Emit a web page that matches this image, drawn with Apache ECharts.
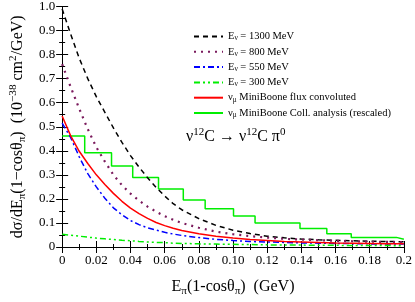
<!DOCTYPE html>
<html><head><meta charset="utf-8">
<script src="https://cdn.jsdelivr.net/npm/echarts@6/dist/echarts.min.js"></script>
<style>html,body{margin:0;padding:0;background:#fff}#c{width:415px;height:302px}</style>
</head><body><div id="c"></div>
<script>
// ---- data ----
const xGrid = [0,0.005,0.01,0.015,0.02,0.025,0.03,0.035,0.04,0.045,0.05,0.055,0.06,0.065,0.07,0.08,0.09,0.10,0.11,0.12,0.13,0.14,0.15,0.16,0.17,0.18,0.19,0.20];
const e1300 = [0.99,0.885,0.785,0.70,0.625,0.56,0.495,0.435,0.38,0.332,0.288,0.248,0.212,0.18,0.155,0.118,0.09,0.07,0.056,0.045,0.038,0.033,0.030,0.028,0.026,0.024,0.023,0.022];
const e800  = [0.76,0.665,0.575,0.49,0.415,0.355,0.30,0.257,0.222,0.193,0.168,0.147,0.128,0.113,0.10,0.08,0.064,0.053,0.045,0.039,0.034,0.031,0.028,0.026,0.024,0.022,0.021,0.020];
const e550  = [0.515,0.455,0.375,0.305,0.25,0.203,0.163,0.134,0.11,0.093,0.08,0.07,0.061,0.054,0.048,0.039,0.032,0.027,0.023,0.021,0.019,0.017,0.016,0.015,0.014,0.013,0.012,0.012];
const e300  = [0.053,0.049,0.045,0.041,0.037,0.034,0.031,0.028,0.026,0.023,0.021,0.019,0.018,0.016,0.015,0.013,0.012,0.011,0.010,0.009,0.008,0.008,0.007,0.007,0.006,0.006,0.006,0.005];
const fluxConv = [0.545,0.462,0.398,0.347,0.30,0.26,0.223,0.19,0.162,0.139,0.119,0.102,0.089,0.078,0.069,0.055,0.045,0.037,0.031,0.027,0.023,0.021,0.019,0.017,0.016,0.015,0.014,0.013];
const binEdges = [0,0.0132,0.0289,0.0413,0.0564,0.0709,0.0837,0.1003,0.1129,0.1392,0.1549,0.1692,0.1956,0.2];
const binValues = [0.462,0.392,0.337,0.289,0.241,0.195,0.159,0.129,0.100,0.077,0.055,0.040,0.032];
const xTickLabels = ['0','0.02','0.04','0.06','0.08','0.10','0.12','0.14','0.16','0.18','0.2'];
const yTickLabels = ['0','0.1','0.2','0.3','0.4','0.5','0.6','0.7','0.8','0.9','1.0'];
const legendLabels = [
  'E{sub|ν} = 1300 MeV',
  'E{sub|ν} = 800 MeV',
  'E{sub|ν} = 550 MeV',
  'E{sub|ν} = 300 MeV',
  'ν{sub|μ} MiniBoone flux convoluted',
  'ν{sub|μ} MiniBoone Coll. analysis (rescaled)'
];
const seriesNames = ['E1300','E800','E550','E300','flux','coll'];

// ---- build ----
const F = 'Liberation Serif';
const pair = (ys) => xGrid.map((x,i)=>[x, ys[i]]);
const histData = binValues.map((v,i)=>[binEdges[i], v]);
histData.push([binEdges[binEdges.length-1], binValues[binValues.length-1]]);

const subRich = (fs) => ({
  sub:{fontFamily:F,fontSize:fs*0.7,verticalAlign:'bottom',lineHeight:fs*0.75,color:'#000'},
  sup:{fontFamily:F,fontSize:fs*0.7,verticalAlign:'top',lineHeight:fs*0.75,color:'#000'}
});

const chart = echarts.init(document.getElementById('c'), null, {renderer:'canvas'});
const axisCommon = {
  axisLine:{lineStyle:{color:'#000',width:1}},
  axisTick:{inside:true,length:6,lineStyle:{color:'#000'}},
  minorTick:{show:true,splitNumber:2,length:3,lineStyle:{color:'#000'}},
  splitLine:{show:false}
};
function line(name, ys, color, type, width){
  return {name, type:'line', data:pair(ys), showSymbol:false, symbol:'none',
    lineStyle:{color, type, width}, itemStyle:{color}, animation:false, z:3};
}
chart.setOption({
  animation:false,
  grid:{left:43,right:7,top:5,bottom:42},
  xAxis:[
    Object.assign({type:'value',min:0,max:0.2,interval:0.02,position:'bottom',
      axisLabel:{fontFamily:F,fontSize:13,color:'#000',margin:7,
        formatter:(v)=>xTickLabels[Math.round(v/0.02)]},
      name:'E{sub|π}(1-cosθ{sub|π})  (GeV)', nameLocation:'middle', nameGap:30,
      nameTextStyle:{fontFamily:F,fontSize:16,color:'#000',lineHeight:20,rich:subRich(16)}}, axisCommon),
    Object.assign({type:'value',min:0,max:0.2,interval:0.02,position:'top',axisLabel:{show:false}}, axisCommon)
  ],
  yAxis:[
    Object.assign({type:'value',min:0,max:1,interval:0.1,position:'left',
      axisLabel:{fontFamily:F,fontSize:13,color:'#000',margin:7,
        formatter:(v)=>yTickLabels[Math.round(v/0.1)]},
      name:'dσ/dE{sub|π}(1−cosθ{sub|π})  (10{sup|−38} cm{sup|2}/GeV)', nameLocation:'middle', nameGap:25, nameRotate:90,
      nameTextStyle:{fontFamily:F,fontSize:16,color:'#000',lineHeight:20,rich:subRich(16)}}, axisCommon),
    Object.assign({type:'value',min:0,max:1,interval:0.1,position:'right',axisLabel:{show:false}}, axisCommon)
  ],
  legend:{
    orient:'vertical', left:193, top:31, padding:0, itemWidth:29, itemHeight:10, itemGap:4.3,
    data:seriesNames,
    itemStyle:{opacity:0},
    formatter:(n)=>legendLabels[seriesNames.indexOf(n)],
    textStyle:{fontFamily:F,fontSize:10.5,color:'#000',lineHeight:11,rich:subRich(10.5)}
  },
  graphic:[{
    type:'text', left:186, top:127,
    style:{text:'ν{sup|12}C → ν{sup|12}C π{sup|0}', fontFamily:F, fontSize:16, fill:'#000', lineHeight:20,
      rich:{sup:{fontFamily:F,fontSize:11,verticalAlign:'top',lineHeight:11,fill:'#000'}}}
  }],
  series:[
    line('E1300', e1300, '#000000', [5,4], 1.5),
    line('E800', e800, '#7a1a5c', [2,5], 2.2),
    line('E550', e550, '#0000ff', [6,3,2,3], 1.5),
    line('E300', e300, '#00ee00', [6,3,2,3,2,3], 1.5),
    line('flux', fluxConv, '#ff0000', 'solid', 1.5),
    {name:'coll', type:'line', data:histData, step:'end', showSymbol:false, symbol:'none',
      lineStyle:{color:'#00ee00',width:1.5}, itemStyle:{color:'#00ee00'}, z:2}
  ]
});
</script></body></html>
